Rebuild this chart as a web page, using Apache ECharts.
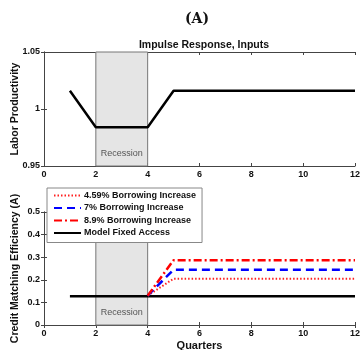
<!DOCTYPE html>
<html><head><meta charset="utf-8">
<script src="https://cdn.jsdelivr.net/npm/echarts@6/dist/echarts.min.js"></script>
<style>html,body{margin:0;padding:0;background:#fff}#c{width:361px;height:350px}</style>
</head><body><div id="c"></div>
<script>
const quarters = [1,2,3,4,5,6,7,8,9,10,11,12];
const laborProd = [1.016,0.984,0.984,0.984,1.016,1.016,1.016,1.016,1.016,1.016,1.016,1.016];
const fixedAccess = [0.127,0.127,0.127,0.127,0.127,0.127,0.127,0.127,0.127,0.127,0.127,0.127];
const shockQuarters = [4,5,6,7,8,9,10,11,12];
const borrow459 = [0.13,0.205,0.205,0.205,0.205,0.205,0.205,0.205,0.205];
const borrow7 = [0.13,0.245,0.245,0.245,0.245,0.245,0.245,0.245,0.245];
const borrow89 = [0.13,0.287,0.287,0.287,0.287,0.287,0.287,0.287,0.287];
const recession = [2,4];
const xTicks = [0,2,4,6,8,10,12];
const topYTicks = [0.95,1,1.05];
const botYTicks = [0,0.1,0.2,0.3,0.4,0.5];

const font = 'Liberation Sans, Arial, sans-serif';
const axCol = '#444';
const zip = (xs, ys) => xs.map((x,i)=>[x,ys[i]]);

function xAx(gi, show){
  return {type:'value', gridIndex:gi, min:xTicks[0], max:xTicks[xTicks.length-1], interval:2,
    position: show ? 'bottom':'top',
    axisLine:{show:true, lineStyle:{color:axCol,width:1}},
    axisTick:{show:true, inside:true, length:3, lineStyle:{color:axCol}},
    axisLabel:{show:show, color:'#111', fontFamily:font, fontWeight:'bold', fontSize:9, margin:4},
    splitLine:{show:false}};
}
function yAx(gi, show, min, max, interval, name){
  return {type:'value', gridIndex:gi, min:min, max:max, interval:interval,
    position: show ? 'left':'right',
    name: show ? name : '', nameLocation:'middle', nameRotate:90, nameGap:23, nameMoveOverlap:false,
    nameTextStyle:{fontFamily:font, fontWeight:'bold', fontSize:10.5, color:'#111'},
    axisLine:{show:true, lineStyle:{color:axCol,width:1}},
    axisTick:{show:true, inside:true, length:3, lineStyle:{color:axCol}},
    axisLabel:{show:show, color:'#111', fontFamily:font, fontWeight:'bold', fontSize:9, margin:4,
      formatter: v => String(+v.toFixed(2))},
    splitLine:{show:false}};
}
const markRec = {silent:true,
  itemStyle:{color:'#e5e5e5', borderColor:'#777', borderWidth:1},
  label:{show:true, position:'insideBottom', distance:8, color:'#555', fontFamily:font, fontSize:9},
  data:[[{xAxis:recession[0], name:'Recession'},{xAxis:recession[1]}]]};

const chart = echarts.init(document.getElementById('c'), null, {renderer:'canvas'});
chart.setOption({
  animation:false,
  title:[
    {text:'(A)', left:192, top:7, textAlign:'center', textStyle:{fontFamily:'DejaVu Serif, Liberation Serif, serif', fontWeight:'bold', fontSize:14, color:'#111'}},
    {text:'Impulse Response, Inputs', left:199, top:35, textAlign:'center', textStyle:{fontFamily:font, fontWeight:'bold', fontSize:10.5, color:'#111'}}
  ],
  grid:[
    {left:44, top:52, width:311, height:114, containLabel:false, outerBoundsMode:'none'},
    {left:44, top:212, width:311, height:113, containLabel:false, outerBoundsMode:'none'}
  ],
  xAxis:[xAx(0,true), xAx(0,false),
    Object.assign(xAx(1,true), {name:'Quarters', nameLocation:'middle', nameGap:15, nameTextStyle:{fontFamily:font, fontWeight:'bold', fontSize:11, color:'#111'}}),
    xAx(1,false)],
  yAxis:[yAx(0,true,0.95,1.05,0.05,'Labor Productivity'), yAx(0,false,0.95,1.05,0.05,''),
    yAx(1,true,0,0.5,0.1,'Credit Matching Efficiency (A)'), yAx(1,false,0,0.5,0.1,'')],
  legend:{orient:'vertical', left:47, top:188, itemWidth:27, itemHeight:10, itemGap:3.5,
    padding:[3,6,5,6], backgroundColor:'#fff', borderColor:'#888', borderWidth:1,
    itemStyle:{opacity:0},
    textStyle:{fontFamily:font, fontWeight:'bold', fontSize:9, color:'#111', padding:[0,0,0,-2]},
    data:['4.59% Borrowing Increase','7% Borrowing Increase','8.9% Borrowing Increase','Model Fixed Access']},
  series:[
    {type:'line', xAxisIndex:0, yAxisIndex:0, data:zip(quarters,laborProd), symbol:'none',
      lineStyle:{color:'#000', width:2.5}, markArea:markRec, z:3},
    {type:'line', name:'Model Fixed Access', xAxisIndex:2, yAxisIndex:2, data:zip(quarters,fixedAccess), symbol:'none',
      itemStyle:{color:'#000'}, lineStyle:{color:'#000', width:2.5}, markArea:markRec, z:3},
    {type:'line', name:'4.59% Borrowing Increase', xAxisIndex:2, yAxisIndex:2, data:zip(shockQuarters,borrow459), symbol:'none',
      itemStyle:{color:'#ff2020'}, lineStyle:{color:'#ff2020', width:2, type:[1.5,2]}, z:4},
    {type:'line', name:'7% Borrowing Increase', xAxisIndex:2, yAxisIndex:2, data:zip(shockQuarters,borrow7), symbol:'none',
      itemStyle:{color:'#0000ff'}, lineStyle:{color:'#0000ff', width:2.5, type:[8,5]}, z:4},
    {type:'line', name:'8.9% Borrowing Increase', xAxisIndex:2, yAxisIndex:2, data:zip(shockQuarters,borrow89), symbol:'none',
      itemStyle:{color:'#ff0000'}, lineStyle:{color:'#ff0000', width:2.5, type:[8,3,2,3]}, z:4}
  ]
});
</script></body></html>
